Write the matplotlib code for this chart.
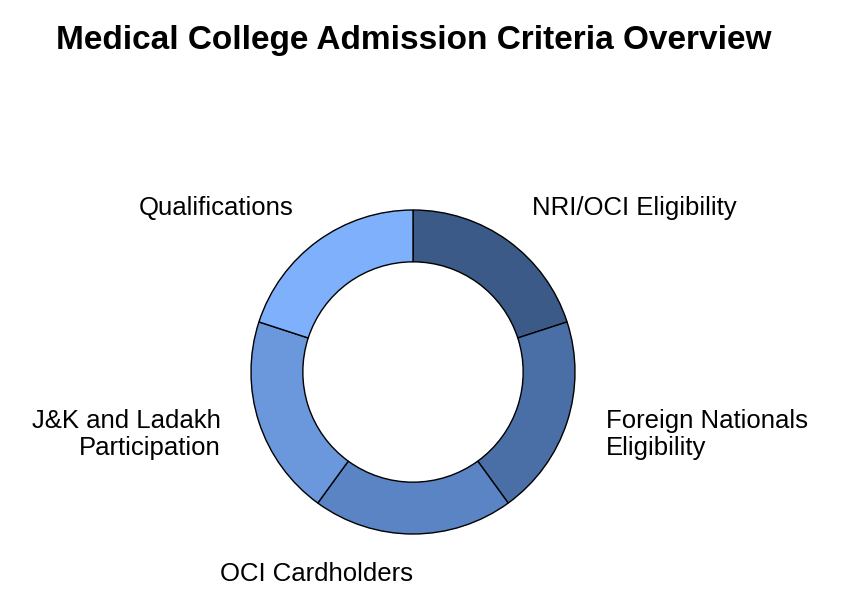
import matplotlib
matplotlib.use("Agg")
import matplotlib.pyplot as plt

categories = ["NRI/OCI Eligibility", "Foreign Nationals\nEligibility", "OCI Cardholders",
              "J&K and Ladakh\nParticipation", "Qualifications"]
values = [1, 1, 1, 1, 1]
colors = ["#3b5a87", "#4a6ea6", "#5a84c4", "#6b98dc", "#7fb0fb"]

plt.rcParams['font.family'] = ['Liberation Sans', 'DejaVu Sans']
fig = plt.figure(figsize=(8.43, 6.16), dpi=100)
W, H = 843, 616
cx, cy, r = 413, 372, 162
ax = fig.add_axes([(cx - r) / W, (H - cy - r) / H, 2 * r / W, 2 * r / H])
ax.pie(values, labels=categories, colors=colors, startangle=90, counterclock=False,
       labeldistance=1.25, radius=1,
       wedgeprops=dict(width=0.32, edgecolor="black", linewidth=1),
       textprops=dict(fontsize=18.5))
ax.set_xlim(-1, 1); ax.set_ylim(-1, 1)
ax.set_aspect('equal')
fig.text(414 / W, 1 - 40 / H, "Medical College Admission Criteria Overview",
         ha="center", va="center", fontsize=24, fontweight="bold")
fig.savefig("out.png", dpi=100)
